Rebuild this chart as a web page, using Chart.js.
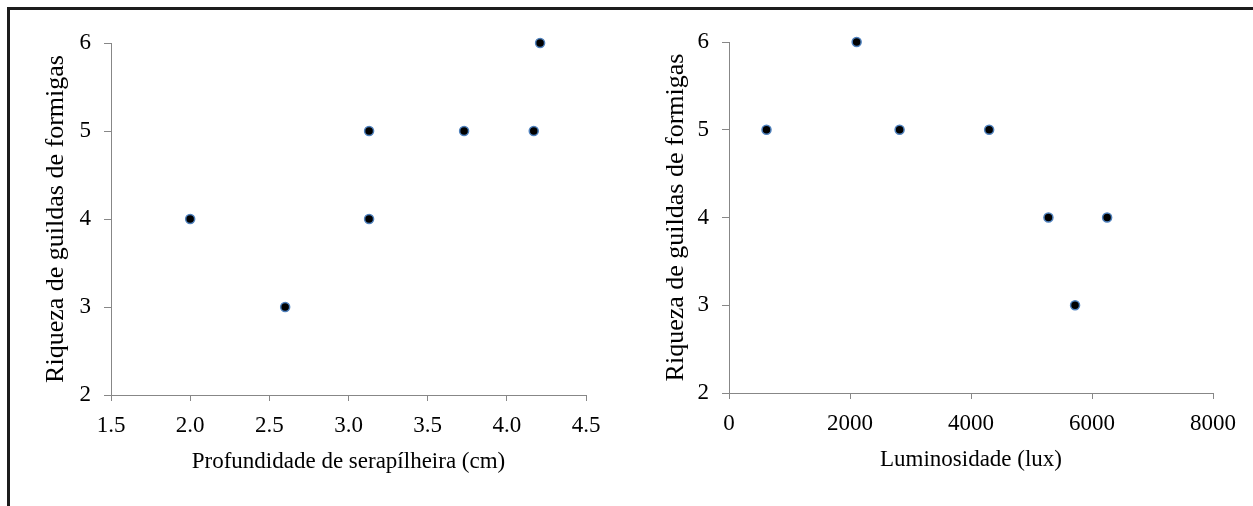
<!DOCTYPE html>
<html>
<head>
<meta charset="utf-8">
<script src="https://cdn.jsdelivr.net/npm/chart.js@4.4.1/dist/chart.umd.min.js"></script>
<style>
  html, body { margin: 0; padding: 0; background: #fff; width: 1253px; height: 506px; overflow: hidden; }
  #frame { position: absolute; left: 7px; top: 7px; width: 1300px; height: 600px;
           border-top: 3px solid #1c1c1c; border-left: 3px solid #1c1c1c; box-sizing: border-box; }
  canvas { position: absolute; top: 0; }
  #c1 { left: 0; }
  #c2 { left: 620px; }
</style>
</head>
<body>
<div id="frame"></div>
<canvas id="c1" width="620" height="506"></canvas>
<canvas id="c2" width="633" height="506"></canvas>
<script>
const yTitle = 'Riqueza de guildas de formigas';
const depthTitle = 'Profundidade de serapílheira (cm)';
const luxTitle = 'Luminosidade (lux)';
const depthX = [2.0, 2.6, 3.13, 3.13, 3.73, 4.17, 4.21];
const depthRichness = [4, 3, 5, 4, 5, 5, 6];
const luxX = [620, 2110, 2820, 4300, 5280, 5720, 6250];
const luxRichness = [5, 6, 5, 5, 4, 3, 4];
const richnessTicks = [2, 3, 4, 5, 6];
const depthTicks = [1.5, 2.0, 2.5, 3.0, 3.5, 4.0, 4.5];
const luxTicks = [0, 2000, 4000, 6000, 8000];

const FAMILY = '"Liberation Serif", "Times New Roman", serif';
const FONT = { family: FAMILY, size: 23 };
const YFONT = { family: FAMILY, size: 26 };
const AXIS = '#878787';

function makeChart(id, xs, ys, xTicks, xTitle, xFmt, pad, yW) {
  const pts = xs.map((x, i) => ({ x: x, y: ys[i] }));
  return new Chart(document.getElementById(id), {
    type: 'scatter',
    data: { datasets: [{ data: pts, backgroundColor: '#000', borderColor: '#4f81bd',
      borderWidth: 1.5, pointRadius: 4.5, pointHoverRadius: 4.5, clip: false }] },
    options: {
      responsive: false, animation: false, devicePixelRatio: 1,
      layout: { padding: pad },
      plugins: { legend: { display: false }, tooltip: { enabled: false } },
      scales: {
        x: {
          type: 'linear', min: xTicks[0], max: xTicks[xTicks.length - 1],
          afterBuildTicks: s => { s.ticks = xTicks.map(v => ({ value: v })); },
          afterFit: s => { s.height = 111; },
          ticks: { font: FONT, color: '#000', padding: 11, maxRotation: 0, autoSkip: false,
                   callback: v => xFmt(v) },
          grid: { drawOnChartArea: false, drawTicks: true, tickLength: 6, color: AXIS, lineWidth: 1 },
          border: { color: AXIS, width: 1 },
          title: { display: true, text: xTitle, font: FONT, color: '#000', padding: { top: 0, bottom: 30 } }
        },
        y: {
          type: 'linear', min: 2, max: 6,
          afterBuildTicks: s => { s.ticks = richnessTicks.map(v => ({ value: v })); },
          afterFit: s => { s.width = yW; },
          ticks: { font: FONT, color: '#000', padding: 13, callback: v => String(v) },
          grid: { drawOnChartArea: false, drawTicks: true, tickLength: 7, color: AXIS, lineWidth: 1 },
          border: { color: AXIS, width: 1 },
          title: { display: true, text: yTitle, font: YFONT, color: '#000', padding: { top: 41, bottom: 0 } }
        }
      }
    }
  });
}

makeChart('c1', depthX, depthRichness, depthTicks, depthTitle, v => Number(v).toFixed(1),
  { left: 0, top: 43, right: 34, bottom: 0 }, 111);
makeChart('c2', luxX, luxRichness, luxTicks, luxTitle, v => String(v),
  { left: 0, top: 42, right: 40, bottom: 2 }, 109);
</script>
</body>
</html>
